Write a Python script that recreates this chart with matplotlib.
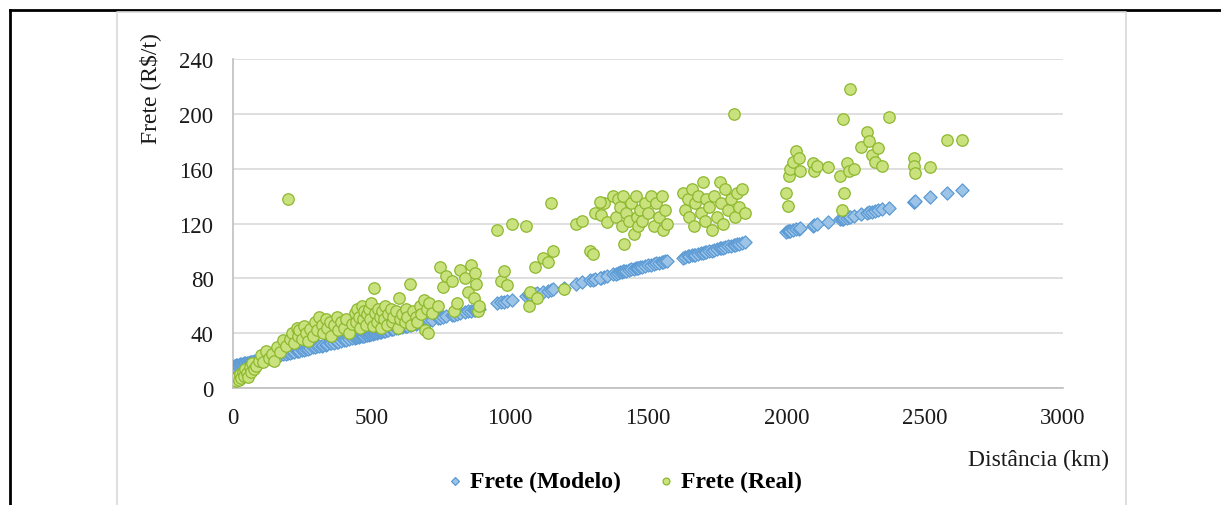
import numpy as np
import matplotlib
matplotlib.use("agg")
import matplotlib.pyplot as plt
from matplotlib.lines import Line2D

# distance (km), real freight and model freight (R$/t) per route
distancia = [
    5, 10, 15, 20, 25, 30, 35, 40, 45, 50, 55, 60, 65, 70, 75, 85, 95, 100, 110, 120,
    130, 140, 150, 160, 170, 180, 190, 200, 205,
    215, 220, 230, 235, 240, 250, 255, 265, 270, 280, 290, 295, 305, 310, 320, 325,
    335, 340, 350, 355, 365, 375, 380, 390, 400, 410, 420, 430, 440, 445, 450, 455,
    460, 465, 470, 475, 480, 485, 490, 495, 500, 505,
    510, 515, 520, 525, 530, 535, 540, 545, 550, 555, 560, 570, 575, 580, 590, 595,
    600, 605, 610, 620, 625, 630, 640, 645, 650, 660, 665, 675, 680, 690, 695, 700,
    705, 710, 720,
    740, 750, 760, 770, 790, 800, 810, 820, 840, 850, 860, 870, 875, 880, 885, 890,
    955, 970, 980, 990, 1010, 1060, 1070, 1075, 1090, 1100, 1120, 1140, 1150, 1155,
    1195, 1240, 1260, 1290, 1300, 1310, 1330, 1340,
    1326, 1351, 1375, 1385, 1390, 1400, 1405, 1410, 1415, 1420, 1430, 1440, 1450,
    1455, 1460, 1465, 1470, 1480, 1490, 1500, 1510, 1520, 1530, 1540, 1550, 1555,
    1560, 1570,
    1625, 1635, 1645, 1650, 1660, 1665, 1670, 1680, 1690, 1700, 1705, 1710, 1720,
    1730, 1740, 1750, 1760, 1765, 1770, 1780, 1790, 1800, 1810, 1815, 1820, 1830,
    1840, 1850,
    2000, 2005, 2010, 2015, 2025, 2035, 2045, 2050, 2095, 2100, 2110, 2150, 2195,
    2200, 2205, 2210, 2220, 2225, 2230, 2245, 2270, 2290, 2300, 2310, 2320, 2330,
    2345, 2370,
    2460, 2462, 2465, 2520, 2580, 2635,
]

frete_real = [
    6, 5, 8, 6, 10, 7, 12, 9, 14, 11, 8, 15, 12, 18, 14, 16, 20, 24, 19, 27,
    22, 25, 20, 30, 26, 35, 31, 138, 36,
    40, 33, 44, 38, 42, 36, 45, 40, 34, 43, 38, 48, 42, 52, 46, 40,
    50, 44, 48, 38, 46, 52, 42, 48, 44, 50, 40, 47, 55, 48, 58, 52,
    44, 60, 50, 56, 46, 54, 58, 50, 62, 45,
    73, 55, 48, 58, 52, 44, 56, 50, 60, 46, 54, 58, 48, 52, 56, 44,
    66, 50, 54, 48, 58, 52, 76, 46, 56, 52, 48, 60, 54, 64, 42, 58,
    40, 62, 55,
    60, 88, 74, 82, 78, 56, 62, 86, 80, 70, 90, 66, 84, 76, 56, 60,
    115, 78, 85, 75, 120, 118, 60, 70, 88, 66, 95, 92, 135, 100,
    72, 120, 122, 100, 98, 128, 126, 135,
    136, 121, 140, 125, 138, 132, 118, 140, 105, 128, 122, 135, 112,
    140, 125, 118, 130, 122, 135, 128, 140, 118, 135, 125, 140, 115,
    130, 120,
    142, 130, 138, 125, 145, 118, 135, 140, 128, 150, 122, 138, 132,
    115, 140, 125, 150, 135, 120, 145, 130, 138, 200, 125, 142, 132,
    145, 128,
    142, 133, 155, 160, 165, 173, 168, 158, 164, 158, 162, 161, 155,
    130, 196, 142, 164, 158, 218, 160, 176, 187, 180, 170, 165, 175,
    162, 198,
    168, 162, 157, 161, 181, 181,
]

frete_modelo = [
    16.2, 16.5, 16.7, 16.9, 17.2, 17.4, 17.6, 17.9, 18.1, 18.4, 18.6, 18.8, 19.1, 19.3,
    19.5, 20.0, 20.5, 20.7, 21.2, 21.6, 22.1, 22.6, 23.1, 23.5, 24.0, 24.5, 24.9, 25.4, 25.6,
    26.1, 26.3, 26.8, 27.0, 27.3, 27.8, 28.0, 28.5, 28.7, 29.2, 29.6, 29.9, 30.3, 30.6,
    31.0, 31.3, 31.7, 32.0, 32.5, 32.7, 33.2, 33.6, 33.9, 34.3, 34.8, 35.3, 35.7, 36.2,
    36.7, 36.9, 37.2, 37.4, 37.6, 37.9, 38.1, 38.3, 38.6, 38.8, 39.0, 39.3, 39.5, 39.7,
    40.0, 40.2, 40.4, 40.7, 40.9, 41.1, 41.4, 41.6, 41.9, 42.1, 42.3, 42.8, 43.0, 43.3,
    43.7, 44.0, 44.2, 44.4, 44.7, 45.1, 45.4, 45.6, 46.1, 46.3, 46.6, 47.0, 47.3, 47.7,
    48.0, 48.4, 48.7, 48.9, 49.1, 49.4, 49.8,
    50.8, 51.3, 51.7, 52.2, 53.1, 53.6, 54.1, 54.5, 55.5, 56.0, 56.4, 56.9, 57.1, 57.4,
    57.6, 57.8,
    62.0, 62.5, 63.0, 63.5, 64.5, 67.0, 67.5, 68.0, 68.5, 69.0, 70.0, 71.0, 71.5, 72.0,
    73.0, 76.0, 77.0, 78.5, 79.0, 79.5, 80.5, 81.0,
    80.5, 81.5, 83.0, 83.5, 84.0, 84.5, 84.7, 85.0, 85.3, 85.5, 86.0, 86.5, 87.0,
    87.3, 87.5, 87.8, 88.0, 88.5, 89.0, 89.5, 90.0, 90.5, 91.0, 91.5, 92.0, 92.2,
    92.5, 93.0,
    95.0, 95.5, 96.0, 96.3, 96.8, 97.0, 97.3, 97.8, 98.3, 98.8, 99.0, 99.3, 99.8,
    100.3, 100.8, 101.3, 101.8, 102.0, 102.3, 102.8, 103.3, 103.8, 104.3, 104.5,
    104.8, 105.3, 105.8, 106.3,
    114.0, 114.2, 114.5, 114.7, 115.2, 115.7, 116.2, 116.5, 118.5, 118.8, 119.3,
    121.0, 123.0, 123.3, 123.5, 123.8, 124.3, 124.5, 124.8, 125.5, 126.7, 127.7,
    128.2, 128.7, 129.2, 129.7, 130.4, 131.6,
    136.0, 136.0, 136.2, 139.0, 142.0, 144.5,
]

xticks = [0, 500, 1000, 1500, 2000, 2500, 3000]
yticks = [0, 40, 80, 120, 160, 200, 240]

plt.rcParams["font.family"] = ["Liberation Serif", "DejaVu Serif"]

fig = plt.figure(figsize=(12.21, 5.06), dpi=100)
ax = fig.add_axes([0.1908, 0.2312, 0.6798, 0.6502])

ax.scatter(distancia, frete_modelo, marker="D", s=45, facecolor="#9DC3E6",
           edgecolor="#5B9BD5", linewidth=0.9, label="Frete (Modelo)", zorder=3)
ax.scatter(distancia, frete_real, marker="o", s=68, facecolor="#C9E27E",
           edgecolor="#8DB82E", linewidth=0.9, label="Frete (Real)", zorder=4)

ax.set_xlim(0, 3000)
ax.set_ylim(0, 240)
ax.set_xticks(xticks)
ax.set_yticks(yticks)
ax.tick_params(length=0, labelsize=16.5, pad=14, colors="#1a1a1a")
ax.grid(axis="y", color="#D9D9D9", linewidth=1.2)
ax.set_axisbelow(True)
for side in ["top", "right"]:
    ax.spines[side].set_visible(False)
ax.spines["left"].set_color("#BFBFBF")
ax.spines["bottom"].set_color("#BFBFBF")
ax.spines["left"].set_linewidth(1.2)
ax.spines["bottom"].set_linewidth(1.2)

fig.text(150 / 1221, 1 - 33 / 506, "Frete (R$/t)", rotation=90, ha="center",
         va="top", fontsize=17, color="#1a1a1a")
fig.text(1109 / 1221, 1 - 460 / 506, "Distância (km)", ha="right", va="center",
         fontsize=17, color="#1a1a1a")

fig.legend(loc="center", bbox_to_anchor=(0.512, 1 - 482 / 506), ncol=2,
           frameon=False, markerscale=0.6, handlelength=0.6, handletextpad=0.35,
           columnspacing=1.6, prop={"weight": "bold", "size": 17})

# outer black frame and light chart-area border
fig.add_artist(Line2D([10 / 1221, 10 / 1221], [0, 1 - 11 / 506], color="black",
                      linewidth=2, transform=fig.transFigure))
fig.add_artist(Line2D([10 / 1221, 1], [1 - 11 / 506, 1 - 11 / 506], color="black",
                      linewidth=2, transform=fig.transFigure))
fig.add_artist(Line2D([117 / 1221, 117 / 1221, 1126 / 1221, 1126 / 1221],
                      [0, 1 - 13 / 506, 1 - 13 / 506, 0], color="#D9D9D9",
                      linewidth=1.2, transform=fig.transFigure))

fig.savefig("out.png", dpi=100)
